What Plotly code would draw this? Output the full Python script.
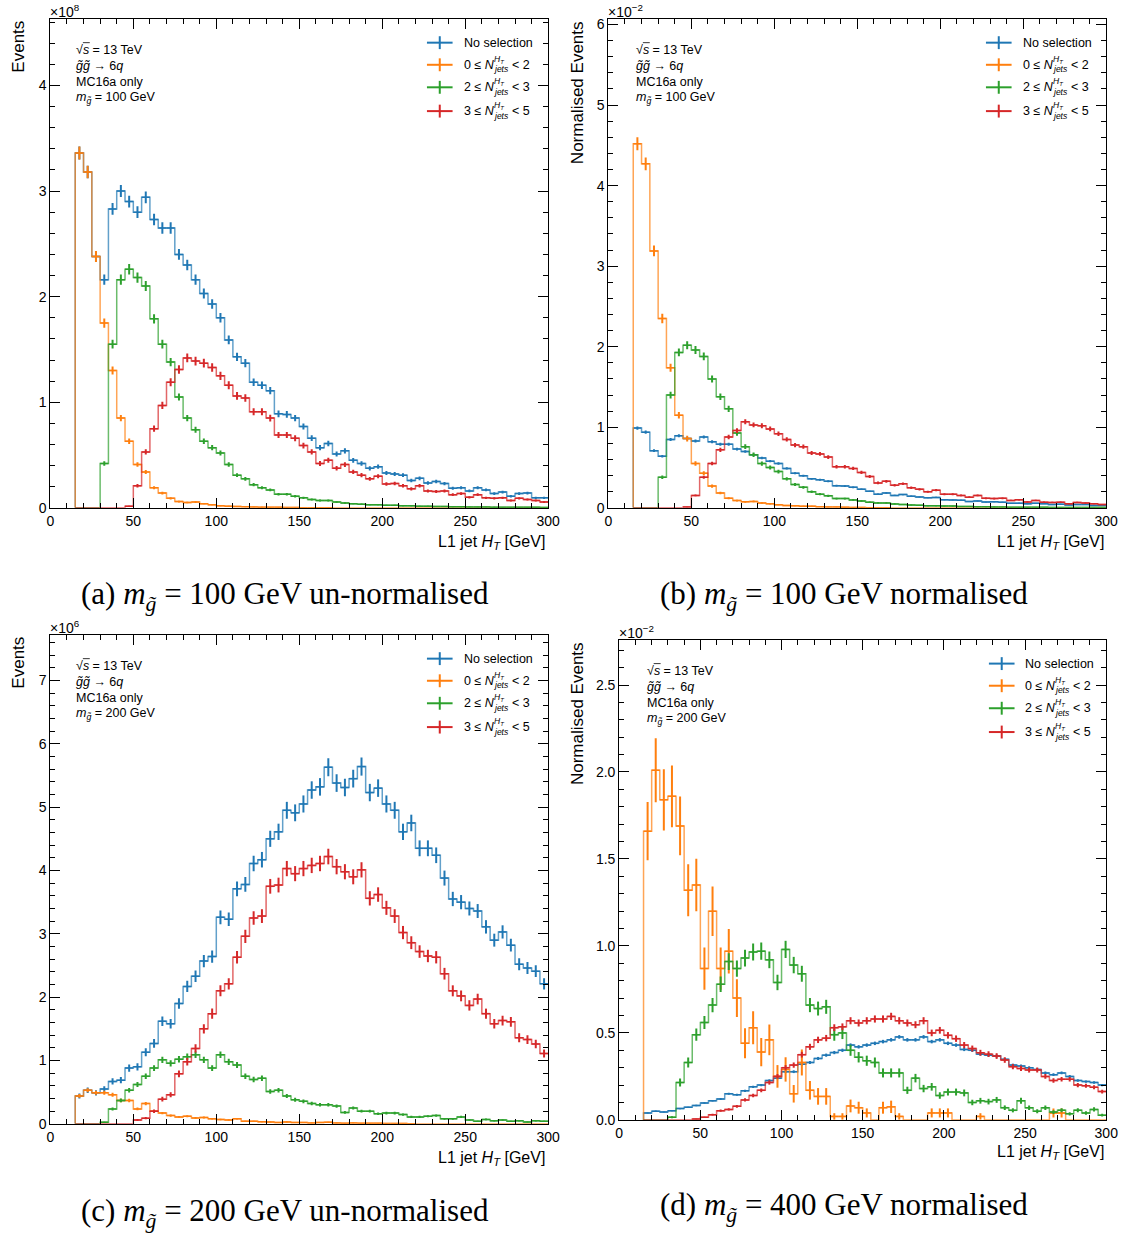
import plotly.graph_objects as go
import math

W, H = 1134, 1236

# ---------------- data ----------------
bin_edges = list(range(15, 305, 5))          # 15 ... 300 (GeV)
bin_centers = [e + 2.5 for e in bin_edges[:-1]]
legend_tails = ["", "< 2", "< 3", "< 5"]
legend_heads = ["No selection", "0 \u2264 ", "2 \u2264 ", "3 \u2264 "]

# (a) m = 100 GeV, un-normalised (x1e8)
blue_a = [3.36, 3.18, 2.38, 2.16, 2.83, 3.00, 2.90, 2.80, 2.94, 2.73, 2.65, 2.65, 2.40, 2.30, 2.16, 2.03, 1.93, 1.80, 1.59, 1.43,
          1.37, 1.19, 1.16, 1.11, 0.89, 0.885, 0.85, 0.77, 0.66, 0.57, 0.61, 0.51, 0.54, 0.45, 0.42, 0.375, 0.39, 0.33, 0.32, 0.31,
          0.26, 0.28, 0.235, 0.25, 0.23, 0.185, 0.19, 0.16, 0.19, 0.17, 0.135, 0.15, 0.11, 0.135, 0.14, 0.095, 0.095]
orange_a = [3.36, 3.18, 2.38, 1.75, 1.30, 0.85, 0.63, 0.41, 0.34, 0.19, 0.14, 0.09, 0.06, 0.05, 0.055, 0.04, 0.03, 0.02, 0.015, 0.012,
            0.01, 0.008, 0.007, 0.006, 0.005, 0.004, 0.003, 0.002, 0.002, 0.001, 0.001] + [0] * 26
green_a = [0, 0, 0, 0.42, 1.55, 2.16, 2.26, 2.18, 2.10, 1.79, 1.55, 1.38, 1.05, 0.85, 0.74, 0.63, 0.57, 0.52, 0.41, 0.31,
           0.275, 0.22, 0.19, 0.17, 0.13, 0.13, 0.11, 0.095, 0.08, 0.07, 0.07, 0.055, 0.047, 0.04, 0.035, 0.03, 0.03, 0.025, 0.025, 0.02,
           0.02, 0.015, 0.015, 0.013, 0.012, 0.01, 0.01, 0.009, 0.008, 0.008, 0.007, 0.006, 0.006, 0.005, 0.005, 0.005, 0.004]
red_a = [0, 0, 0, 0, 0, 0, 0.015, 0.21, 0.53, 0.75, 0.97, 1.19, 1.31, 1.42, 1.39, 1.37, 1.33, 1.25, 1.16, 1.06,
         1.04, 0.91, 0.91, 0.85, 0.69, 0.69, 0.66, 0.59, 0.53, 0.42, 0.45, 0.375, 0.41, 0.34, 0.31, 0.275, 0.30, 0.225, 0.23, 0.21,
         0.18, 0.21, 0.16, 0.155, 0.16, 0.125, 0.135, 0.10, 0.125, 0.095, 0.09, 0.095, 0.07, 0.09, 0.08, 0.07, 0.055]

# (b) m = 100 GeV, normalised (x1e-2)
blue_b = [0.99, 0.94, 0.71, 0.64, 0.85, 0.895, 0.86, 0.83, 0.88, 0.82, 0.79, 0.79, 0.73, 0.70, 0.66, 0.62, 0.58, 0.55, 0.49, 0.43,
          0.40, 0.36, 0.35, 0.33, 0.275, 0.27, 0.255, 0.23, 0.205, 0.17, 0.185, 0.155, 0.165, 0.145, 0.135, 0.125, 0.13, 0.10, 0.098, 0.095,
          0.08, 0.085, 0.072, 0.076, 0.07, 0.057, 0.058, 0.05, 0.057, 0.052, 0.042, 0.046, 0.035, 0.041, 0.043, 0.03, 0.03]
orange_b = [4.52, 4.27, 3.19, 2.35, 1.74, 1.15, 0.86, 0.55, 0.43, 0.27, 0.185, 0.12, 0.09, 0.075, 0.08, 0.06, 0.05, 0.04, 0.03, 0.025,
            0.02, 0.02, 0.015, 0.012, 0.01, 0.008, 0.006, 0.004, 0.003, 0.002, 0.001] + [0] * 26
green_b = [0, 0, 0, 0.38, 1.40, 1.93, 2.02, 1.96, 1.88, 1.60, 1.38, 1.23, 0.93, 0.76, 0.66, 0.55, 0.50, 0.45, 0.36, 0.29,
           0.255, 0.20, 0.17, 0.15, 0.115, 0.115, 0.098, 0.085, 0.071, 0.062, 0.062, 0.049, 0.042, 0.036, 0.031, 0.027, 0.027, 0.022, 0.022, 0.018,
           0.018, 0.013, 0.013, 0.012, 0.011, 0.009, 0.009, 0.008, 0.007, 0.007, 0.006, 0.005, 0.005, 0.0045, 0.0045, 0.0045, 0.0035]
red_b = [0, 0, 0, 0, 0, 0, 0.011, 0.155, 0.38, 0.55, 0.72, 0.88, 0.96, 1.07, 1.03, 1.02, 0.98, 0.92, 0.85, 0.78,
         0.76, 0.68, 0.67, 0.63, 0.51, 0.51, 0.49, 0.44, 0.39, 0.31, 0.33, 0.28, 0.30, 0.25, 0.23, 0.20, 0.22, 0.17, 0.17, 0.155,
         0.133, 0.155, 0.118, 0.115, 0.118, 0.093, 0.10, 0.074, 0.093, 0.07, 0.067, 0.07, 0.052, 0.067, 0.059, 0.052, 0.041]

# (c) m = 200 GeV, un-normalised (x1e6)
blue_c = [0.44, 0.53, 0.49, 0.55, 0.67, 0.69, 0.88, 0.90, 1.13, 1.27, 1.62, 1.58, 1.90, 2.17, 2.33, 2.57, 2.64, 3.26, 3.23, 3.71,
          3.78, 4.11, 4.17, 4.50, 4.61, 4.95, 4.91, 5.05, 5.27, 5.32, 5.63, 5.38, 5.31, 5.45, 5.64, 5.23, 5.30, 5.05, 4.95, 4.61,
          4.75, 4.35, 4.35, 4.24, 3.88, 3.55, 3.50, 3.40, 3.36, 3.11, 2.90, 3.03, 2.82, 2.52, 2.46, 2.41, 2.21]
orange_c = [0.44, 0.53, 0.49, 0.49, 0.46, 0.37, 0.37, 0.235, 0.32, 0.20, 0.17, 0.13, 0.11, 0.12, 0.094, 0.10, 0.08, 0.07, 0.06, 0.08,
            0.04, 0.04, 0.035, 0.03, 0.02, 0.03, 0.02, 0.02, 0.015, 0.02, 0.025, 0.015, 0.01, 0.015, 0.01, 0.01, 0.008, 0.005, 0.005, 0.004,
            0.003] + [0] * 16
green_c = [0, 0, 0, 0.026, 0.235, 0.37, 0.53, 0.62, 0.75, 0.88, 1.01, 0.955, 1.02, 1.06, 1.09, 1.01, 0.88, 1.09, 0.98, 0.93,
           0.75, 0.70, 0.72, 0.51, 0.53, 0.44, 0.38, 0.355, 0.32, 0.30, 0.30, 0.28, 0.18, 0.25, 0.20, 0.20, 0.16, 0.17, 0.17, 0.146,
           0.11, 0.11, 0.12, 0.13, 0.08, 0.08, 0.11, 0.06, 0.04, 0.07, 0.05, 0.06, 0.04, 0.05, 0.03, 0.05, 0.04]
red_c = [0, 0, 0, 0, 0, 0, 0, 0.06, 0.09, 0.20, 0.39, 0.46, 0.79, 0.98, 1.19, 1.50, 1.74, 2.10, 2.21, 2.63,
         2.96, 3.25, 3.28, 3.75, 3.77, 4.03, 3.95, 4.03, 4.08, 4.11, 4.22, 4.06, 3.98, 3.90, 4.01, 3.56, 3.62, 3.41, 3.28, 3.02,
         2.86, 2.72, 2.65, 2.63, 2.37, 2.10, 2.02, 1.87, 1.97, 1.74, 1.58, 1.63, 1.61, 1.36, 1.33, 1.26, 1.11]

# (d) m = 400 GeV, normalised (x1e-2)
blue_d = [0.04, 0.05, 0.045, 0.053, 0.065, 0.072, 0.082, 0.097, 0.11, 0.12, 0.15, 0.145, 0.167, 0.19, 0.20, 0.226, 0.24, 0.277, 0.277, 0.32,
          0.33, 0.353, 0.372, 0.387, 0.40, 0.43, 0.42, 0.43, 0.44, 0.45, 0.46, 0.477, 0.46, 0.46, 0.477, 0.45, 0.46, 0.44, 0.43, 0.405,
          0.40, 0.378, 0.372, 0.367, 0.348, 0.315, 0.31, 0.30, 0.29, 0.27, 0.26, 0.27, 0.25, 0.226, 0.22, 0.215, 0.20]
orange_d = [1.66, 2.01, 1.84, 1.86, 1.69, 1.32, 1.35, 0.87, 1.20, 0.87, 0.97, 0.70, 0.44, 0.53, 0.39, 0.46, 0.25, 0.29, 0.15, 0.33,
            0.17, 0.135, 0.135, 0.02, 0.02, 0.08, 0.07, 0.04, 0, 0.07, 0.075, 0.02, 0, 0, 0, 0.04, 0.04, 0.04, 0, 0,
            0, 0.02, 0, 0, 0, 0, 0, 0, 0, 0, 0.04, 0.04, 0, 0, 0, 0, 0]
green_d = [0, 0, 0, 0.015, 0.215, 0.33, 0.49, 0.56, 0.66, 0.78, 0.91, 0.87, 0.93, 0.965, 0.97, 0.92, 0.79, 0.98, 0.89, 0.84,
           0.66, 0.64, 0.65, 0.49, 0.50, 0.40, 0.36, 0.34, 0.33, 0.27, 0.27, 0.27, 0.17, 0.24, 0.18, 0.19, 0.14, 0.16, 0.16, 0.155,
           0.10, 0.11, 0.105, 0.115, 0.07, 0.055, 0.11, 0.07, 0.05, 0.07, 0.045, 0.055, 0.035, 0.055, 0.04, 0.06, 0.027]
red_d = [0, 0, 0, 0, 0, 0, 0.005, 0.015, 0.03, 0.053, 0.06, 0.078, 0.115, 0.14, 0.17, 0.215, 0.25, 0.30, 0.315, 0.375,
         0.42, 0.46, 0.47, 0.53, 0.535, 0.57, 0.557, 0.57, 0.58, 0.58, 0.595, 0.57, 0.557, 0.547, 0.57, 0.50, 0.515, 0.486, 0.467, 0.43,
         0.41, 0.386, 0.378, 0.367, 0.344, 0.306, 0.296, 0.287, 0.287, 0.25, 0.226, 0.234, 0.234, 0.20, 0.196, 0.188, 0.163]

# statistical-uncertainty scale per series (err = k*sqrt(value))
err_k_a = [0.033, 0.033, 0.033, 0.035]
err_k_b = [0.02, 0.038, 0.035, 0.03]
err_k_c = [0.06, 0.045, 0.05, 0.06]
err_k_d = [0.015, 0.13, 0.05, 0.027]

COLORS = ["#1f77b4", "#ff7f0e", "#2ca02c", "#d62728"]
LIGHT = ["rgba(31,119,180,0.7)", "rgba(255,127,14,0.7)", "rgba(44,160,44,0.7)", "rgba(214,39,40,0.7)"]

SANS = "Liberation Sans, Arial, Helvetica, sans-serif"
SERIF = "Liberation Serif, DejaVu Serif, serif"

panels = [
    dict(box=(47, 552, 17, 510), yr=4.63, ydt=1, ymin=0.2, yfmt="d", expo="\u00d710<sup>8</sup>", ytitle="Events", ytx=15,
         data=[blue_a, orange_a, green_a, red_a], k=err_k_a, mass="100",
         caption="(a) <i>m</i><sub><i>g\u0303</i></sub> = 100 GeV un-normalised", cap=(285, 599),
         info=(71, 48), leg=(442, 465, 41), xt=(551, 545)),
    dict(box=(613, 1118, 17, 510), yr=6.07, ydt=1, ymin=0.2, yfmt="d", expo="\u00d710<sup>\u22122</sup>", ytitle="Normalised Events", ytx=582,
         data=[blue_b, orange_b, green_b, red_b], k=err_k_b, mass="100",
         caption="(b) <i>m</i><sub><i>g\u0303</i></sub> = 100 GeV normalised", cap=(852, 599),
         info=(639, 48), leg=(1009, 1032, 41), xt=(1118, 545)),
    dict(box=(47, 552, 638, 1131), yr=7.72, ydt=1, ymin=0.2, yfmt="d", expo="\u00d710<sup>6</sup>", ytitle="Events", ytx=15,
         data=[blue_c, orange_c, green_c, red_c], k=err_k_c, mass="200",
         caption="(c) <i>m</i><sub><i>g\u0303</i></sub> = 200 GeV un-normalised", cap=(285, 1221),
         info=(71, 669), leg=(442, 465, 662), xt=(551, 1166)),
    dict(box=(624, 1118, 643, 1127), yr=2.76, ydt=0.5, ymin=0.1, yfmt=".1f", expo="\u00d710<sup>\u22122</sup>", ytitle="Normalised Events", ytx=581,
         data=[blue_d, orange_d, green_d, red_d], k=err_k_d, mass="200",
         caption="(d) <i>m</i><sub><i>g\u0303</i></sub> = 400 GeV normalised", cap=(852, 1215),
         info=(650, 674), leg=(1012, 1034, 667), xt=(1118, 1160)),
]


def px(x):
    return x / W


def py(y):
    return 1 - y / H


fig = go.Figure()
annotations = []
shapes = []
layout = {}

for i, p in enumerate(panels, start=1):
    xa = "x" if i == 1 else f"x{i}"
    ya = "y" if i == 1 else f"y{i}"
    x0, x1, y0, y1 = p["box"]
    axis_common = dict(showline=True, linecolor="black", linewidth=1, mirror="allticks", ticks="inside",
                       ticklen=10, tickwidth=1, tickcolor="black", showgrid=False, zeroline=False,
                       tickfont=dict(family=SANS, size=14, color="black"))
    layout["xaxis" if i == 1 else f"xaxis{i}"] = dict(
        axis_common, domain=[px(x0), px(x1)], anchor=ya, range=[0, 300], dtick=50, tick0=0,
        minor=dict(dtick=10, ticklen=5, ticks="inside", tickcolor="black", showgrid=False))
    layout["yaxis" if i == 1 else f"yaxis{i}"] = dict(
        axis_common, domain=[py(y1), py(y0)], anchor=xa, range=[0, p["yr"]], dtick=p["ydt"], tick0=0,
        tickformat=p["yfmt"],
        minor=dict(dtick=p["ymin"], ticklen=5, ticks="inside", tickcolor="black", showgrid=False))

    for s, vals in enumerate(p["data"]):
        # step histogram
        fig.add_trace(go.Scatter(
            x=[bin_edges[0]] + bin_edges, y=[0] + vals + [vals[-1]], mode="lines",
            line=dict(color=LIGHT[s], width=1.5, shape="hv"), xaxis=xa, yaxis=ya,
            showlegend=False, hoverinfo="skip"))
        # error crosses
        cx = [c for c, v in zip(bin_centers, vals) if v > 0]
        cy = [v for v in vals if v > 0]
        ey = [p["k"][s] * math.sqrt(v) for v in cy]
        fig.add_trace(go.Scatter(
            x=cx, y=cy, mode="markers", marker=dict(size=1, color=COLORS[s], opacity=0),
            error_y=dict(type="data", array=ey, visible=True, color=COLORS[s], thickness=2, width=0),
            error_x=dict(type="constant", value=2.5, visible=True, color=COLORS[s], thickness=1.5, width=0),
            xaxis=xa, yaxis=ya, showlegend=False, hoverinfo="skip"))

    # exponent label
    annotations.append(dict(x=px(x0 - 2), y=py(y0 - 8), xref="paper", yref="paper", text=p["expo"],
                            showarrow=False, xanchor="left", yanchor="middle",
                            font=dict(family=SANS, size=14, color="black")))
    # y title
    annotations.append(dict(x=px(p["ytx"]), y=py(y0), xref="paper", yref="paper", text=p["ytitle"],
                            showarrow=False, xanchor="center", yanchor="top", textangle=-90,
                            font=dict(family=SANS, size=17, color="black")))
    # x title
    xtx, xty = p["xt"]
    annotations.append(dict(x=px(xtx), y=py(xty), xref="paper", yref="paper",
                            text="L1 jet <i>H</i><sub><i>T</i></sub> [GeV]",
                            showarrow=False, xanchor="right", yanchor="middle",
                            font=dict(family=SANS, size=16, color="black")))
    # info block
    ix, iy = p["info"]
    info_lines = ["\u221a<i>s</i> = 13 TeV", "<i>g\u0303g\u0303</i> \u2192 6<i>q</i>", "MC16a only",
                  "<i>m</i><sub><i>g\u0303</i></sub> = " + p["mass"] + " GeV"]
    for j, t in enumerate(info_lines):
        annotations.append(dict(x=px(ix), y=py(iy + j * 16.3), xref="paper", yref="paper", text=t,
                                showarrow=False, xanchor="left", yanchor="middle",
                                font=dict(family=SANS, size=12.5, color="black")))
    # overline on sqrt(s)
    shapes.append(dict(type="line", xref="paper", yref="paper", x0=px(ix + 9), x1=px(ix + 16),
                       y0=py(iy - 7), y1=py(iy - 7), line=dict(color="black", width=0.8)))
    # legend
    lcx, ltx, ly = p["leg"]
    for s in range(4):
        yy = ly + [0, 22.3, 45, 69][s]
        shapes.append(dict(type="line", xref="paper", yref="paper", x0=px(lcx - 13), x1=px(lcx + 13),
                           y0=py(yy), y1=py(yy), line=dict(color=COLORS[s], width=2)))
        shapes.append(dict(type="line", xref="paper", yref="paper", x0=px(lcx), x1=px(lcx),
                           y0=py(yy - 6.5), y1=py(yy + 6.5), line=dict(color=COLORS[s], width=2)))
        if s == 0:
            annotations.append(dict(x=px(ltx), y=py(yy), xref="paper", yref="paper", text=legend_heads[0],
                                    showarrow=False, xanchor="left", yanchor="middle",
                                    font=dict(family=SANS, size=12.5, color="black")))
        else:
            annotations.append(dict(x=px(ltx), y=py(yy), xref="paper", yref="paper",
                                    text=legend_heads[s] + "<i>N</i>",
                                    showarrow=False, xanchor="left", yanchor="middle",
                                    font=dict(family=SANS, size=12.5, color="black")))
            annotations.append(dict(x=px(ltx + 30), y=py(yy - 5.5), xref="paper", yref="paper",
                                    text="<i>H<sub>T</sub></i>",
                                    showarrow=False, xanchor="left", yanchor="middle",
                                    font=dict(family=SANS, size=8.5, color="black")))
            annotations.append(dict(x=px(ltx + 30), y=py(yy + 4.5), xref="paper", yref="paper",
                                    text="<i>jets</i>",
                                    showarrow=False, xanchor="left", yanchor="middle",
                                    font=dict(family=SANS, size=8.5, color="black")))
            annotations.append(dict(x=px(ltx + 48), y=py(yy), xref="paper", yref="paper", text=legend_tails[s],
                                    showarrow=False, xanchor="left", yanchor="middle",
                                    font=dict(family=SANS, size=12.5, color="black")))
    # caption
    cx_, cy_ = p["cap"]
    annotations.append(dict(x=px(cx_), y=py(cy_), xref="paper", yref="paper", text=p["caption"],
                            showarrow=False, xanchor="center", yanchor="middle",
                            font=dict(family=SERIF, size=31, color="black")))

fig.update_layout(width=W, height=H, autosize=False, margin=dict(l=0, r=0, t=0, b=0),
                  paper_bgcolor="white", plot_bgcolor="white", showlegend=False,
                  annotations=annotations, shapes=shapes, **layout)

fig.write_html("out.html")
